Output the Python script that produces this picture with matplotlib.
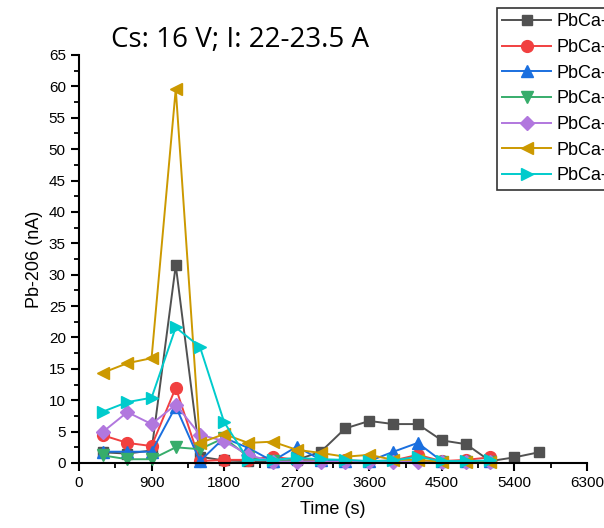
import numpy as np
import matplotlib.pyplot as plt
from matplotlib.ticker import MultipleLocator

# time axis, one reading every 300 s
time_s = [300, 600, 900, 1200, 1500, 1800, 2100, 2400, 2700, 3000,
          3300, 3600, 3900, 4200, 4500, 4800, 5100, 5400, 5700]

# Pb-206 current (nA) per sample
pb_black = [1.7, 1.5, 2.0, 31.5, 1.0, 0.4, 0.3, 0.2, 0.5, 1.8,
            5.5, 6.7, 6.2, 6.2, 3.6, 3.0, 0.3, 0.9, 1.7]
pb_red = [4.4, 3.2, 2.7, 12.0, 0.3, 0.5, 0.5, 1.0, 0.5, 0.5,
          0.4, 0.3, 0.4, 1.3, 0.3, 0.5, 0.9]
pb_blue = [1.8, 1.8, 1.8, 9.0, 0.3, 4.0, 2.4, 0.3, 2.6, 0.5,
           0.3, 0.3, 1.8, 3.2, 0.3, 0.3, 0.3]
pb_green = [1.2, 0.6, 0.6, 2.5, 2.2, 4.0, 1.0, 0.3, 0.3, 0.2,
            0.2, 0.2, 0.2, 0.2, 0.2, 0.2, 0.2]
pb_purple = [5.0, 8.1, 6.2, 9.3, 4.5, 3.5, 1.3, 0.2, 0.2, 0.2,
             0.2, 0.2, 0.2, 0.2, 0.2, 0.2, 0.2]
pb_gold = [14.4, 15.9, 16.7, 59.6, 3.2, 4.6, 3.2, 3.4, 2.1, 1.6,
           1.0, 1.3, 0.5, 0.5, 0.2, 0.2, 0.2]
pb_cyan = [8.2, 9.7, 10.4, 21.6, 18.5, 6.5, 0.5, 0.5, 0.8, 0.6,
           0.5, 0.3, 0.4, 1.0, 0.3, 0.3, 0.4]

labels = ["PbCa-1", "PbCa-2", "PbCa-3", "PbCa-4", "PbCa-5", "PbCa-6", "PbCa-7"]

series = [pb_black, pb_red, pb_blue, pb_green, pb_purple, pb_gold, pb_cyan]
colors = ["#515151", "#F14040", "#1A6FDF", "#37AD6B", "#B177DE", "#CC9900", "#00CBCC"]
markers = ["s", "o", "^", "v", "D", "<", ">"]
msizes = [7.5, 8.5, 8.5, 8.5, 7, 8.5, 8.5]

plt.rcParams['font.family'] = ['Liberation Sans', 'DejaVu Sans']

fig = plt.figure(figsize=(6.04, 5.28), dpi=100)
ax = fig.add_axes([79 / 604, 1 - 463 / 528, 508 / 604, 408 / 528])

for vals, c, m, ms, lab in zip(series, colors, markers, msizes, labels):
    ax.plot(time_s[:len(vals)], vals, color=c, marker=m, markersize=ms,
            linewidth=1.4, label=lab, clip_on=False)

ax.set_xlim(0, 6300)
ax.set_ylim(0, 65)
ax.xaxis.set_major_locator(MultipleLocator(900))
ax.xaxis.set_minor_locator(MultipleLocator(450))
ax.yaxis.set_major_locator(MultipleLocator(5))
ax.yaxis.set_minor_locator(MultipleLocator(2.5))

for side in ["top", "right"]:
    ax.spines[side].set_visible(False)
for side in ["left", "bottom"]:
    ax.spines[side].set_linewidth(1.5)

ax.tick_params(which="major", direction="out", length=6, width=1.5, labelsize=11)
ax.tick_params(which="minor", direction="out", length=3.5, width=1.3)

ax.set_xlabel("Time (s)", fontsize=13, labelpad=8)
ax.set_ylabel("Pb-206 (nA)", fontsize=13, labelpad=4)

fig.text(240 / 604, 1 - 40 / 528, "Cs: 16 V; I: 22-23.5 A",
         fontsize=20, family=["Open Sans", "DejaVu Sans"], ha="center", va="center")

leg = fig.legend(loc="upper left", bbox_to_anchor=(497 / 604, 1 - 8 / 528),
                 fontsize=13, frameon=True, fancybox=False, edgecolor="black",
                 handlelength=2.7, handletextpad=0.3, labelspacing=0.48,
                 borderpad=0.3, borderaxespad=0)
leg.get_frame().set_linewidth(1.2)

fig.savefig("out.png", dpi=100)
